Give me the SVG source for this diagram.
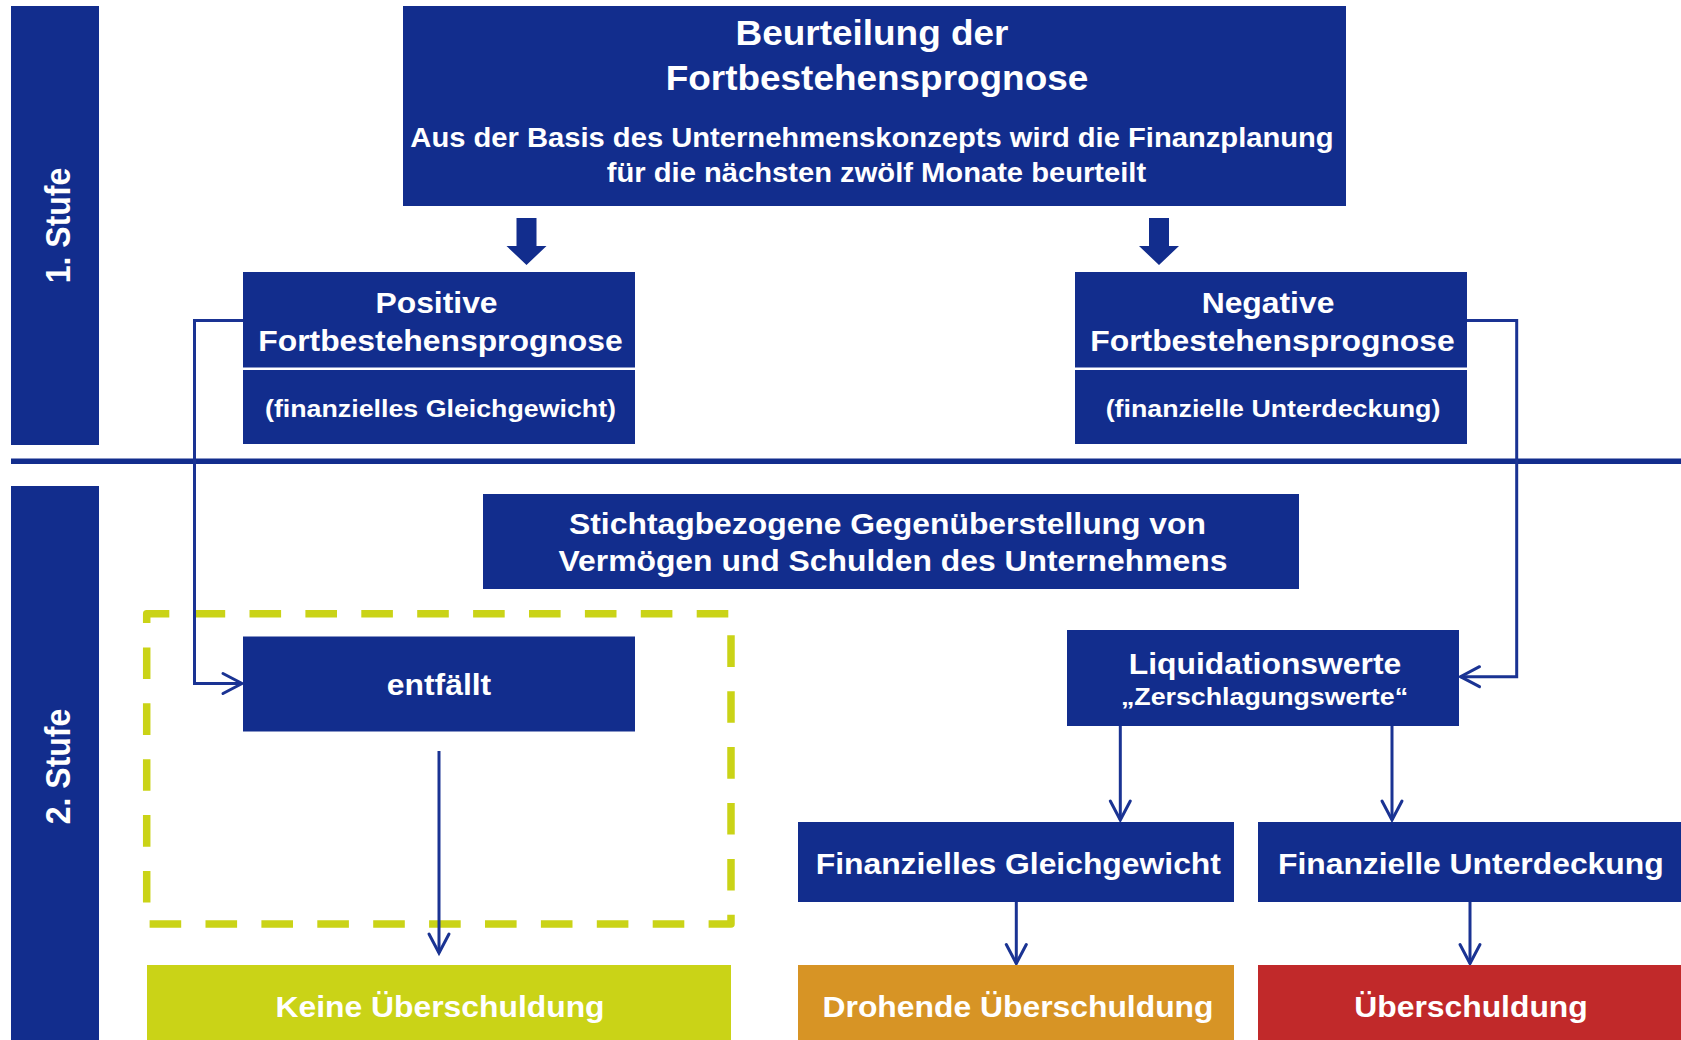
<svg xmlns="http://www.w3.org/2000/svg" width="1681" height="1040" viewBox="0 0 1681 1040">
  <defs>
    <style>
      .box{fill:#122D8D}
      .bar{fill:#122D8D}
      .green{fill:#CAD317}
      .orange{fill:#D79425}
      .red{fill:#C1292A}
      .t{font-family:"Liberation Sans",Arial,Helvetica,sans-serif;font-weight:bold;fill:#fff;text-anchor:middle}
      .f33{font-size:34.2px}
      .f31{font-size:32px}
      .f28{font-size:29.5px}
      .f26{font-size:27px}
      .f24{font-size:24.8px}
      .conn{fill:none;stroke:#1A3393;stroke-width:3}
      .dash{fill:none;stroke:#CAD317;stroke-width:7.5;stroke-dasharray:31.6 24.3;stroke-linejoin:round}
      .block{fill:#122D8D}
    </style>
    <marker id="chev" markerUnits="userSpaceOnUse" viewBox="-3 -3 26 26" markerWidth="26" markerHeight="26" refX="19" refY="10" orient="auto" overflow="visible">
      <path d="M0,0 L19,10 L0,20" fill="none" stroke="#1A3393" stroke-width="3" stroke-linecap="round" stroke-linejoin="miter"/>
    </marker>
  </defs>

  <rect width="1681" height="1040" fill="#fff"/>

  <!-- stage bars -->
  <g id="stage1">
    <rect class="bar" x="11" y="6" width="88" height="439"/>
    <text class="t f31" transform="translate(70,225.5) scale(1.08,1) rotate(-90)">1. Stufe</text>
  </g>
  <g id="stage2">
    <rect class="bar" x="11" y="486" width="88" height="554"/>
    <text class="t f31" transform="translate(70,766.5) scale(1.08,1) rotate(-90)">2. Stufe</text>
  </g>

  <!-- divider between the two stages -->
  <rect id="divider" x="11" y="458.5" width="1670" height="5.5" fill="#122D8D"/>

  <!-- dashed frame around the not-applicable branch -->
  <path id="frame" class="dash" d="M146.7,622.7 V613.7 H731 V924 H146.7 Z"/>

  <!-- connectors -->
  <g id="connectors">
    <polygon class="block" points="516.5,218 536.5,218 536.5,246 546.5,246 526.5,265 506.5,246 516.5,246"/>
    <polygon class="block" points="1149,218 1169,218 1169,246 1179,246 1159,265 1139,246 1149,246"/>
    <path class="conn" d="M243,320.5 H194.5 V683.5 H242" marker-end="url(#chev)"/>
    <path class="conn" d="M1467,320.5 H1516.7 V676.7 H1460.5" marker-end="url(#chev)"/>
    <path class="conn" d="M439,751 V953" marker-end="url(#chev)"/>
    <path class="conn" d="M1120.3,726 V820" marker-end="url(#chev)"/>
    <path class="conn" d="M1392,726 V820" marker-end="url(#chev)"/>
    <path class="conn" d="M1016.3,902 V963.5" marker-end="url(#chev)"/>
    <path class="conn" d="M1470,902 V963.5" marker-end="url(#chev)"/>
  </g>

  <!-- nodes -->
  <g id="assessment">
    <rect class="box" x="403" y="6" width="943" height="200"/>
    <text class="t f33" transform="translate(872,45) scale(1.08,1)">Beurteilung der</text>
    <text class="t f33" transform="translate(877,90) scale(1.08,1)">Fortbestehensprognose</text>
    <text class="t f26" transform="translate(872,146.7) scale(1.08,1)">Aus der Basis des Unternehmenskonzepts wird die Finanzplanung</text>
    <text class="t f26" transform="translate(876.5,181.7) scale(1.08,1)">für die nächsten zwölf Monate beurteilt</text>
  </g>

  <g id="positive">
    <rect class="box" x="243" y="272" width="392" height="95.5"/>
    <rect class="box" x="243" y="370" width="392" height="74"/>
    <text class="t f28" transform="translate(436.5,313) scale(1.08,1)">Positive</text>
    <text class="t f28" transform="translate(440.5,350.7) scale(1.08,1)">Fortbestehensprognose</text>
    <text class="t f24" transform="translate(440.5,416.7) scale(1.08,1)">(finanzielles Gleichgewicht)</text>
  </g>

  <g id="negative">
    <rect class="box" x="1075" y="272" width="392" height="95.5"/>
    <rect class="box" x="1075" y="370" width="392" height="74"/>
    <text class="t f28" transform="translate(1268,313) scale(1.08,1)">Negative</text>
    <text class="t f28" transform="translate(1272.5,350.7) scale(1.08,1)">Fortbestehensprognose</text>
    <text class="t f24" transform="translate(1273,416.7) scale(1.08,1)">(finanzielle Unterdeckung)</text>
  </g>

  <g id="comparison">
    <rect class="box" x="483" y="494" width="816" height="95"/>
    <text class="t f28" transform="translate(887.5,534) scale(1.08,1)">Stichtagbezogene Gegenüberstellung von</text>
    <text class="t f28" transform="translate(893,571) scale(1.08,1)">Vermögen und Schulden des Unternehmens</text>
  </g>

  <g id="entfaellt">
    <rect class="box" x="243" y="636.5" width="392" height="95"/>
    <text class="t f28" transform="translate(439,695) scale(1.08,1)">entfällt</text>
  </g>

  <g id="liquidation">
    <rect class="box" x="1067" y="630" width="392" height="96"/>
    <text class="t f28" transform="translate(1265,674) scale(1.08,1)">Liquidationswerte</text>
    <text class="t f24" transform="translate(1264.5,704.5) scale(1.08,1)">„Zerschlagungswerte“</text>
  </g>

  <g id="balance">
    <rect class="box" x="798" y="822" width="436" height="80"/>
    <text class="t f28" transform="translate(1018.3,874) scale(1.08,1)">Finanzielles Gleichgewicht</text>
  </g>

  <g id="shortfall">
    <rect class="box" x="1258" y="822" width="423" height="80"/>
    <text class="t f28" transform="translate(1470.8,874) scale(1.08,1)">Finanzielle Unterdeckung</text>
  </g>

  <g id="no-overindebtedness">
    <rect class="green" x="147" y="965" width="584" height="75"/>
    <text class="t f28" transform="translate(440,1017) scale(1.08,1)">Keine Überschuldung</text>
  </g>

  <g id="impending-overindebtedness">
    <rect class="orange" x="798" y="965" width="436" height="75"/>
    <text class="t f28" transform="translate(1018,1017) scale(1.08,1)">Drohende Überschuldung</text>
  </g>

  <g id="overindebtedness">
    <rect class="red" x="1258" y="965" width="423" height="75"/>
    <text class="t f28" transform="translate(1471,1017) scale(1.08,1)">Überschuldung</text>
  </g>
</svg>
